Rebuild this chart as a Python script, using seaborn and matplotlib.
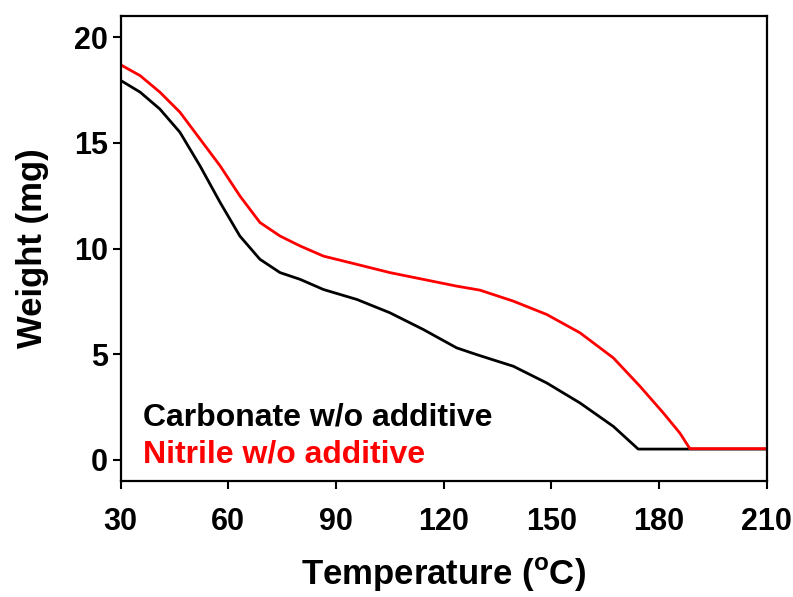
import pandas as pd
import seaborn as sns
import matplotlib.pyplot as plt

# data (temperature in C, weight in mg)
carb_temp = [30, 35.4, 40.9, 46.5, 52.1, 57.7, 63.2, 68.8, 74.4, 80.0, 86.5, 95.8,
             105.0, 114.3, 123.6, 129.2, 134.0, 139.4, 148.7, 158.0, 167.3, 174.2, 190, 210]
carb_weight = [17.95, 17.40, 16.60, 15.50, 13.91, 12.18, 10.59, 9.49, 8.86, 8.54, 8.06, 7.59,
               6.96, 6.17, 5.30, 4.98, 4.72, 4.43, 3.64, 2.69, 1.58, 0.51, 0.51, 0.51]

nit_temp = [30, 35.4, 40.9, 46.5, 52.1, 57.7, 63.2, 68.8, 74.4, 80.0, 86.5, 95.8,
            105.0, 114.3, 123.6, 130.1, 139.4, 148.7, 158.0, 167.3, 174.7, 181.2, 185.8, 188.6, 200, 210]
nit_weight = [18.69, 18.18, 17.40, 16.45, 15.18, 13.91, 12.49, 11.23, 10.59, 10.12, 9.64, 9.25,
              8.86, 8.54, 8.22, 8.03, 7.51, 6.88, 6.01, 4.82, 3.48, 2.22, 1.27, 0.53, 0.53, 0.53]

df = pd.concat([
    pd.DataFrame({'Temperature': carb_temp, 'Weight': carb_weight, 'sample': 'Carbonate w/o additive'}),
    pd.DataFrame({'Temperature': nit_temp, 'Weight': nit_weight, 'sample': 'Nitrile w/o additive'}),
])

sns.set_style('ticks')
plt.rcParams['font.family'] = ['Liberation Sans', 'DejaVu Sans']
plt.rcParams['font.weight'] = 'bold'
plt.rcParams['text.color'] = 'black'
plt.rcParams['axes.labelcolor'] = 'black'
plt.rcParams['xtick.color'] = 'black'
plt.rcParams['ytick.color'] = 'black'
plt.rcParams['axes.edgecolor'] = 'black'
plt.rcParams['mathtext.fontset'] = 'custom'
plt.rcParams['mathtext.rm'] = 'Liberation Sans:bold'
plt.rcParams['mathtext.bf'] = 'Liberation Sans:bold'

fig = plt.figure(figsize=(7.93, 5.97), dpi=100)
ax = fig.add_axes([0.1522, 0.1943, 0.8146, 0.7789])

sns.lineplot(data=df, x='Temperature', y='Weight', hue='sample', sort=False,
             palette={'Carbonate w/o additive': 'black', 'Nitrile w/o additive': '#ff0000'},
             linewidth=2.0, legend=False, ax=ax)

ax.set_xlim(30, 210)
ax.set_ylim(-1, 21)
ax.set_xticks([30, 60, 90, 120, 150, 180, 210])
ax.set_yticks([0, 5, 10, 15, 20])
ax.tick_params(direction='out', length=6, width=1.5, labelsize=22)
ax.tick_params(axis='x', pad=13)
ax.tick_params(axis='y', pad=3)
for lab in ax.get_xticklabels() + ax.get_yticklabels():
    lab.set_fontweight('bold')
for sp in ax.spines.values():
    sp.set_linewidth(1.6)
    sp.set_visible(True)

ax.set_xlabel('Temperature ($^{\\mathrm{o}}$C)', fontsize=25, fontweight='bold', labelpad=13)
ax.set_ylabel('Weight (mg)', fontsize=25, fontweight='bold', labelpad=18)

ax.text(0.035, 0.12, 'Carbonate w/o additive', transform=ax.transAxes,
        fontsize=23, fontweight='bold', color='black')
ax.text(0.035, 0.04, 'Nitrile w/o additive', transform=ax.transAxes,
        fontsize=23, fontweight='bold', color='#ff0000')

plt.savefig('out.png', dpi=100)
